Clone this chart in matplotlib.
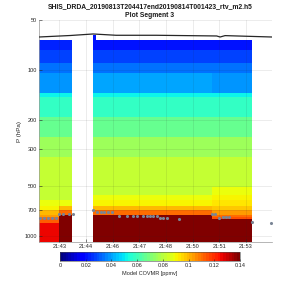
import numpy as np
import matplotlib
matplotlib.use("Agg")
import matplotlib.pyplot as plt
from matplotlib.colors import ListedColormap

plt.rcParams['font.family'] = ['Liberation Sans', 'DejaVu Sans']

# ---------------- data ----------------
title1 = "SHIS_DRDA_20190813T204417end20190814T001423_rtv_m2.h5"
title2 = "Plot Segment 3"

# time axis in minutes after 21:00
tick_pos = [43.0, 44.4, 45.8, 47.2, 48.6, 50.0, 51.4, 52.8]
tick_labels = ["21:43", "21:44", "21:46", "21:47", "21:48", "21:50", "21:51", "21:53"]
xlim = (41.93, 54.15)

# profile column edges (minutes); NaN gap between B and E
col_edges = [41.93, 42.98, 43.67, 44.77, 44.93, 51.02, 53.09]

# pressure layer edges (hPa)
p_edges = [61.2, 66.3, 76, 91, 104, 138, 146, 192, 254, 335, 505, 566,
           606, 660, 700, 745, 769, 790, 833, 1100]

nan = np.nan
col_A = [nan, .023, .028, .033, .038, .052, .058, .066, .076, .081, .081, .082,
         .089, .091, .100, .104, .110, .112, .125]
col_B = [nan, .023, .028, .033, .038, .052, .058, .066, .076, .081, .081, .083,
         .089, .100, .110, .140, .140, .140, .140]
col_gap = [nan] * 19
col_E = [.021, .021, .027, .033, .040, .052, .058, .066, .076, .081, .081, .088,
         .090, .100, .110, .140, .140, .140, .140]
col_C = [nan, .021, .027, .033, .040, .052, .058, .066, .076, .081, .081, .088,
         .090, .100, .110, .140, .140, .140, .140]
col_D = [nan, .021, .027, .033, .038, .052, .058, .066, .076, .081, .088, .090,
         .093, .098, .103, .110, .115, .140, .140]

# surface pressure markers
sfc_t = [41.96, 42.17, 42.38, 42.59, 42.80,
         42.98, 43.17, 43.51, 43.69,
         44.78,
         44.96, 45.16, 45.36, 45.57, 45.78,
         46.15, 46.54, 46.88, 47.06, 47.41, 47.59, 47.76, 47.94, 48.11,
         48.29, 48.46, 48.64,
         49.30,
         51.00, 51.17, 51.38, 51.57, 51.74, 51.91,
         53.10, 54.11]
sfc_p = [779, 779, 779, 779, 779,
         737, 737, 737, 737,
         697,
         720, 720, 720, 720, 720,
         755, 755, 755, 755, 755, 755, 755, 755, 755,
         776, 776, 776,
         790,
         737, 737, 781, 766, 766, 766,
         822, 839]

# aircraft pressure line
ac_t = [41.93, 43.57, 44.77, 45.98, 48.08, 51.26, 51.44, 51.70, 54.15]
ac_p = [63.3, 62.0, 60.7, 61.8, 61.8, 62.4, 63.3, 62.1, 63.3]

vmin, vmax = 0.0, 0.14
cbar_ticks = [0, 0.02, 0.04, 0.06, 0.08, 0.1, 0.12, 0.14]
cbar_labels = ['0', '0.02', '0.04', '0.06', '0.08', '0.1', '0.12', '0.14']
ytick_vals = [50, 100, 200, 300, 500, 700, 1000]

# ---------------- plot ----------------
fig = plt.figure(figsize=(3, 3), dpi=100)
ax = fig.add_axes([0.13, 0.1933, 0.7757, 0.74])

Z = np.array([col_A, col_B, col_gap, col_E, col_C, col_D]).T
Z = np.ma.masked_invalid(Z)
cmap = ListedColormap(plt.get_cmap('jet')(np.linspace(0, 1, 64)))
X, Y = np.meshgrid(col_edges, p_edges)
ax.pcolormesh(X, Y, Z, cmap=cmap, vmin=vmin, vmax=vmax, shading='flat')

ax.plot(ac_t, ac_p, color='0.15', lw=0.9, zorder=3)
ax.scatter(sfc_t, sfc_p, s=5, color='#7a8596', zorder=4, clip_on=False, linewidths=0)

ax.set_yscale('log')
ax.set_ylim(1090, 50)
ax.set_xlim(*xlim)
ax.set_yticks(ytick_vals)
ax.set_yticklabels([str(v) for v in ytick_vals])
ax.yaxis.set_minor_locator(matplotlib.ticker.NullLocator())
ax.set_xticks(tick_pos)
ax.set_xticklabels(tick_labels)
ax.tick_params(axis='both', labelsize=4, direction='in', length=2, width=0.4,
               pad=1.5, colors='0.15')
ax.set_ylabel("P (hPa)", fontsize=4.5, labelpad=2, color='0.15')

for s in ['top', 'right']:
    ax.spines[s].set_visible(False)
for s in ['left', 'bottom']:
    ax.spines[s].set_color('0.6')
    ax.spines[s].set_linewidth(0.5)

ax.grid(True, color='0.15', alpha=0.12, lw=0.5)
ax.set_axisbelow(False)

fig.text(0.5, 0.977, title1, ha='center', va='center', fontsize=4.9, fontweight='bold', color='0.1')
fig.text(0.5, 0.947, title2, ha='center', va='center', fontsize=4.9, fontweight='bold', color='0.1')

cax = fig.add_axes([0.2, 0.131, 0.6, 0.028])
norm = matplotlib.colors.Normalize(vmin=vmin, vmax=vmax)
cb = fig.colorbar(matplotlib.cm.ScalarMappable(norm=norm, cmap=cmap), cax=cax,
                  orientation='horizontal', ticks=cbar_ticks)
cb.ax.set_xticklabels(cbar_labels)
cb.ax.tick_params(labelsize=4, direction='in', length=1.5, width=0.4, pad=2, colors='0.15')
cb.outline.set_linewidth(0.4)
cb.outline.set_edgecolor('0.3')
cb.set_label("Model COVMR [ppmv]", fontsize=4, labelpad=1.5, color='0.15')

fig.savefig("out.png", dpi=100)
